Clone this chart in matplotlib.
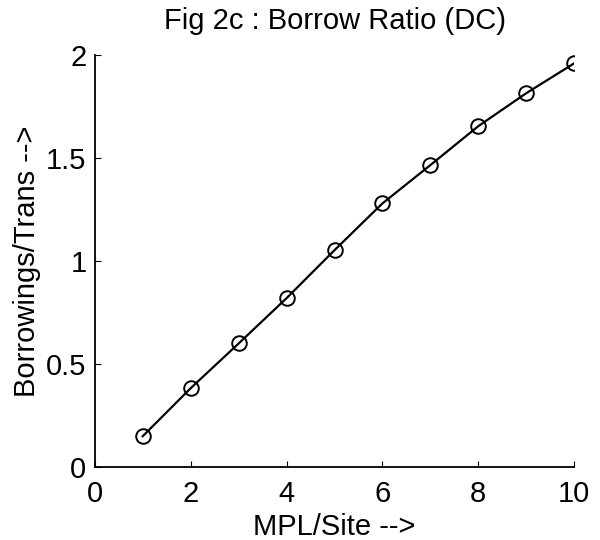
import matplotlib
matplotlib.use("Agg")
import matplotlib.pyplot as plt

plt.rcParams['font.family'] = ['Liberation Sans', 'DejaVu Sans']

mpl_per_site = [1, 2, 3, 4, 5, 6, 7, 8, 9, 10]
borrow_ratio = [0.15, 0.383, 0.60, 0.82, 1.053, 1.28, 1.466, 1.655, 1.815, 1.96]
xticks = [0, 2, 4, 6, 8, 10]
yticks = [0, 0.5, 1, 1.5, 2]
yticklabels = ['0', '0.5', '1', '1.5', '2']

fig = plt.figure(figsize=(6, 5.4), dpi=100)
ax = fig.add_axes([0.158, 0.135, 0.799, 0.763])

ax.plot(mpl_per_site, borrow_ratio, color='black', lw=1.6, marker='o',
        markersize=10.5, markerfacecolor='none', markeredgecolor='black',
        markeredgewidth=1.4)

ax.set_xlim(0, 10)
ax.set_ylim(0, 2)
ax.set_xticks(xticks)
ax.set_yticks(yticks)
ax.set_yticklabels(yticklabels)
ax.tick_params(direction='in', length=4, labelsize=21)
ax.tick_params(axis='x', pad=9)
ax.tick_params(axis='y', pad=6)
for s in ['top', 'right']:
    ax.spines[s].set_visible(False)
for s in ['left', 'bottom']:
    ax.spines[s].set_linewidth(1.3)

ax.set_title('Fig 2c : Borrow Ratio (DC)', fontsize=21, pad=19)
ax.set_xlabel('MPL/Site -->', fontsize=21, labelpad=4)
ax.set_ylabel('Borrowings/Trans -->', fontsize=21, labelpad=4)

fig.savefig('out.png', dpi=100)
